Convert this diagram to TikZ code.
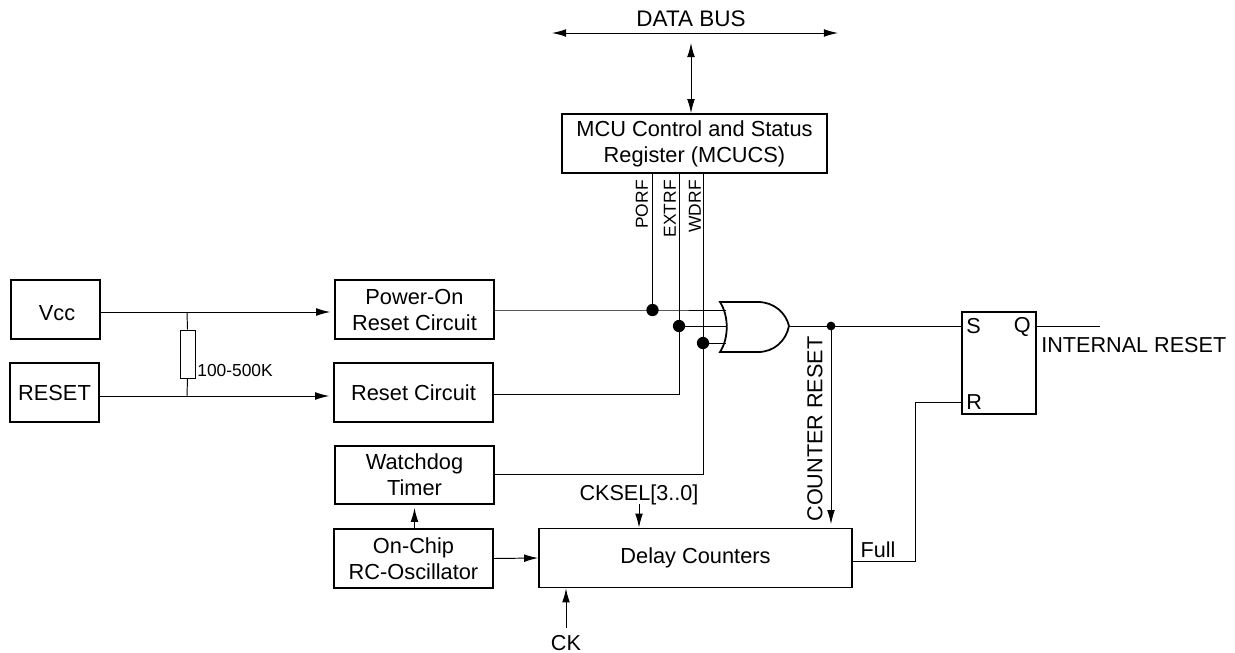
\documentclass[tikz,border=0pt]{standalone}
\usepackage{fontspec}
\setmainfont{Liberation Sans}
\usetikzlibrary{arrows.meta}
\tikzset{
    block/.style={draw, line width=1pt, inner sep=0pt, align=center, font=\fontsize{12.4}{14.8}\selectfont},
    label/.style={inner sep=0pt, font=\fontsize{12.3}{14}\selectfont},
    flag/.style={inner sep=0pt, rotate=90, anchor=east, font=\fontsize{9.9}{11}\selectfont},
    wire/.style={line width=0.55pt},
    sig/.style={wire, -{Latex[length=8pt,width=4.4pt]}},
    bus/.style={wire, {Latex[length=8pt,width=4.4pt]}-{Latex[length=8pt,width=4.4pt]}},
    dot/.style={fill=black, circle, inner sep=0pt, minimum size=#1},
}

\begin{document}
\begin{tikzpicture}[x=0.02cm, y=-0.02cm]
    \useasboundingbox (0,0) rectangle (1235,653);
    % Blocks
    \node[block, minimum width=1.78cm, minimum height=1.18cm] (vcc) at (55.5,309.5) {};
    \node[label, font=\fontsize{12.4}{14}\selectfont] (lvcc) at (57,313) {Vcc};
    \node[block, minimum width=1.78cm, minimum height=1.18cm] (rst) at (54.5,392.5) {RESET};
    \node[block, minimum width=3.18cm, minimum height=1.18cm] (por) at (414.5,309.5) {Power-On\\Reset Circuit};
    \node[block, minimum width=3.18cm, minimum height=1.18cm] (rstc) at (413.5,392.5) {Reset Circuit};
    \node[block, minimum width=3.18cm, minimum height=1.16cm] (wdt) at (414.5,475) {Watchdog\\Timer};
    \node[block, minimum width=3.18cm, minimum height=1.18cm] (osc) at (413.5,558.5) {On-Chip\\RC-Oscillator};
    \node[block, minimum width=6.26cm, minimum height=1.18cm] (delay) at (695.5,558) {Delay Counters};
    \node[block, minimum width=5.3cm, minimum height=1.18cm] (mcucs) at (694.5,143.5) {MCU Control and Status\\Register (MCUCS)};
    \node[block, minimum width=1.48cm, minimum height=2.04cm] (sr) at (999,363) {};
    \node[label, anchor=west] (srs) at (966,326) {S};
    \node[label, anchor=east] (srq) at (1031,327) {Q};
    \node[label, anchor=west] (srr) at (966,402) {R};

    % OR gate
    \coordinate (gtop) at (720,302);
    \coordinate (gbot) at (720,352);
    \coordinate (gout) at (789,326);
    \draw[line width=1pt, fill=white] (gtop) .. controls (729,316) and (729,338) .. (gbot)
        -- (758,352) .. controls (774,352) and (786,341) .. (gout)
        .. controls (786,313) and (774,302) .. (758,302) -- cycle;

    % Junctions
    \coordinate (porf) at (652.5,310);
    \coordinate (extrf) at (679,326);
    \coordinate (wdrf) at (703,343);
    \coordinate (rout) at (831,326);
    \coordinate (vccin) at (187,312);
    \coordinate (rstin) at (187,396);
    \coordinate (qend) at (1100,326);
    \coordinate (extrd) at (679,394);
    \coordinate (wdrd) at (703,474);

    % Flag lines
    \draw[wire] (mcucs.south -| porf) -- (porf);
    \draw[wire] (mcucs.south -| extrf) -- (extrf);
    \draw[wire] (mcucs.south -| wdrf) -- (wdrf);
    \draw[wire] (por.east |- porf) -- (porf) -- (726,310);
    \draw[wire] (extrf) -- (727,326);
    \draw[wire] (wdrf) -- (726,343);
    \draw[wire] (rstc.east |- extrd) -- (extrd) -- (extrf);
    \draw[wire] (wdt.east |- wdrd) -- (wdrd) -- (wdrf);
    \node[dot=7pt] at (porf) {};
    \node[dot=7pt] at (extrf) {};
    \node[dot=7pt] at (wdrf) {};
    \node[flag] (lporf) at (642,180) {PORF};
    \node[flag] (lextrf) at (670,180) {EXTRF};
    \node[flag] (lwdrf) at (695,180) {WDRF};

    % Resistor
    \node[draw, line width=0.55pt, minimum width=0.3cm, minimum height=0.96cm, inner sep=0pt] (res) at (187.5,354) {};
    \node[label, anchor=west, font=\fontsize{9.9}{11}\selectfont] (lres) at (197,371) {100-500K};
    \draw[sig, shorten >=2.2pt] (vcc.east |- vccin) -- (por.west |- vccin);
    \draw[sig, shorten >=2.2pt] (rst.east |- rstin) -- (rstc.west |- rstin);
    \draw[wire] (vccin) -- (res.north);
    \draw[wire] (res.south) -- (rstin);

    % Output
    \draw[wire] (gout) -- (srs.west -| sr.west);
    \node[dot=5pt] at (rout) {};
    \draw[sig, shorten >=2pt] (rout) -- (rout |- delay.north);
    \node[label, rotate=90] (lcnt) at (815,429) {COUNTER RESET};
    \draw[wire] (sr.east |- qend) -- (qend);
    \node[label, anchor=west] (lint) at (1041,345) {INTERNAL RESET};
    \coordinate (full) at (915,561);
    \draw[wire] (delay.east |- full) -- (full) -- (full |- srr) -- (sr.west |- srr);
    \node[label] (lfull) at (878,550) {Full};

    % Clock side
    \draw[sig, shorten >=1.7pt] (wdt.south |- osc.north) -- (wdt.south);
    \draw[sig] (osc.east) -- (delay.west);
    \node[label] (lcksel) at (639,495) {CKSEL[3..0]};
    \coordinate (cksel) at (639,504);
    \draw[sig] (cksel) -- (cksel |- delay.north);
    \node[label] (lck) at (566,643) {CK};
    \coordinate (ck) at (566,628);
    \draw[sig] (ck) -- (ck |- delay.south);

    % Data bus
    \node[label, font=\fontsize{12.8}{14}\selectfont] (lbus) at (691,19) {DATA BUS};
    \coordinate (busl) at (552,33);
    \coordinate (busr) at (838,33);
    \coordinate (busd) at (691,43);
    \draw[bus] (busl) -- (busr);
    \draw[bus] (busd) -- (busd |- mcucs.north);
\end{tikzpicture}
\end{document}
